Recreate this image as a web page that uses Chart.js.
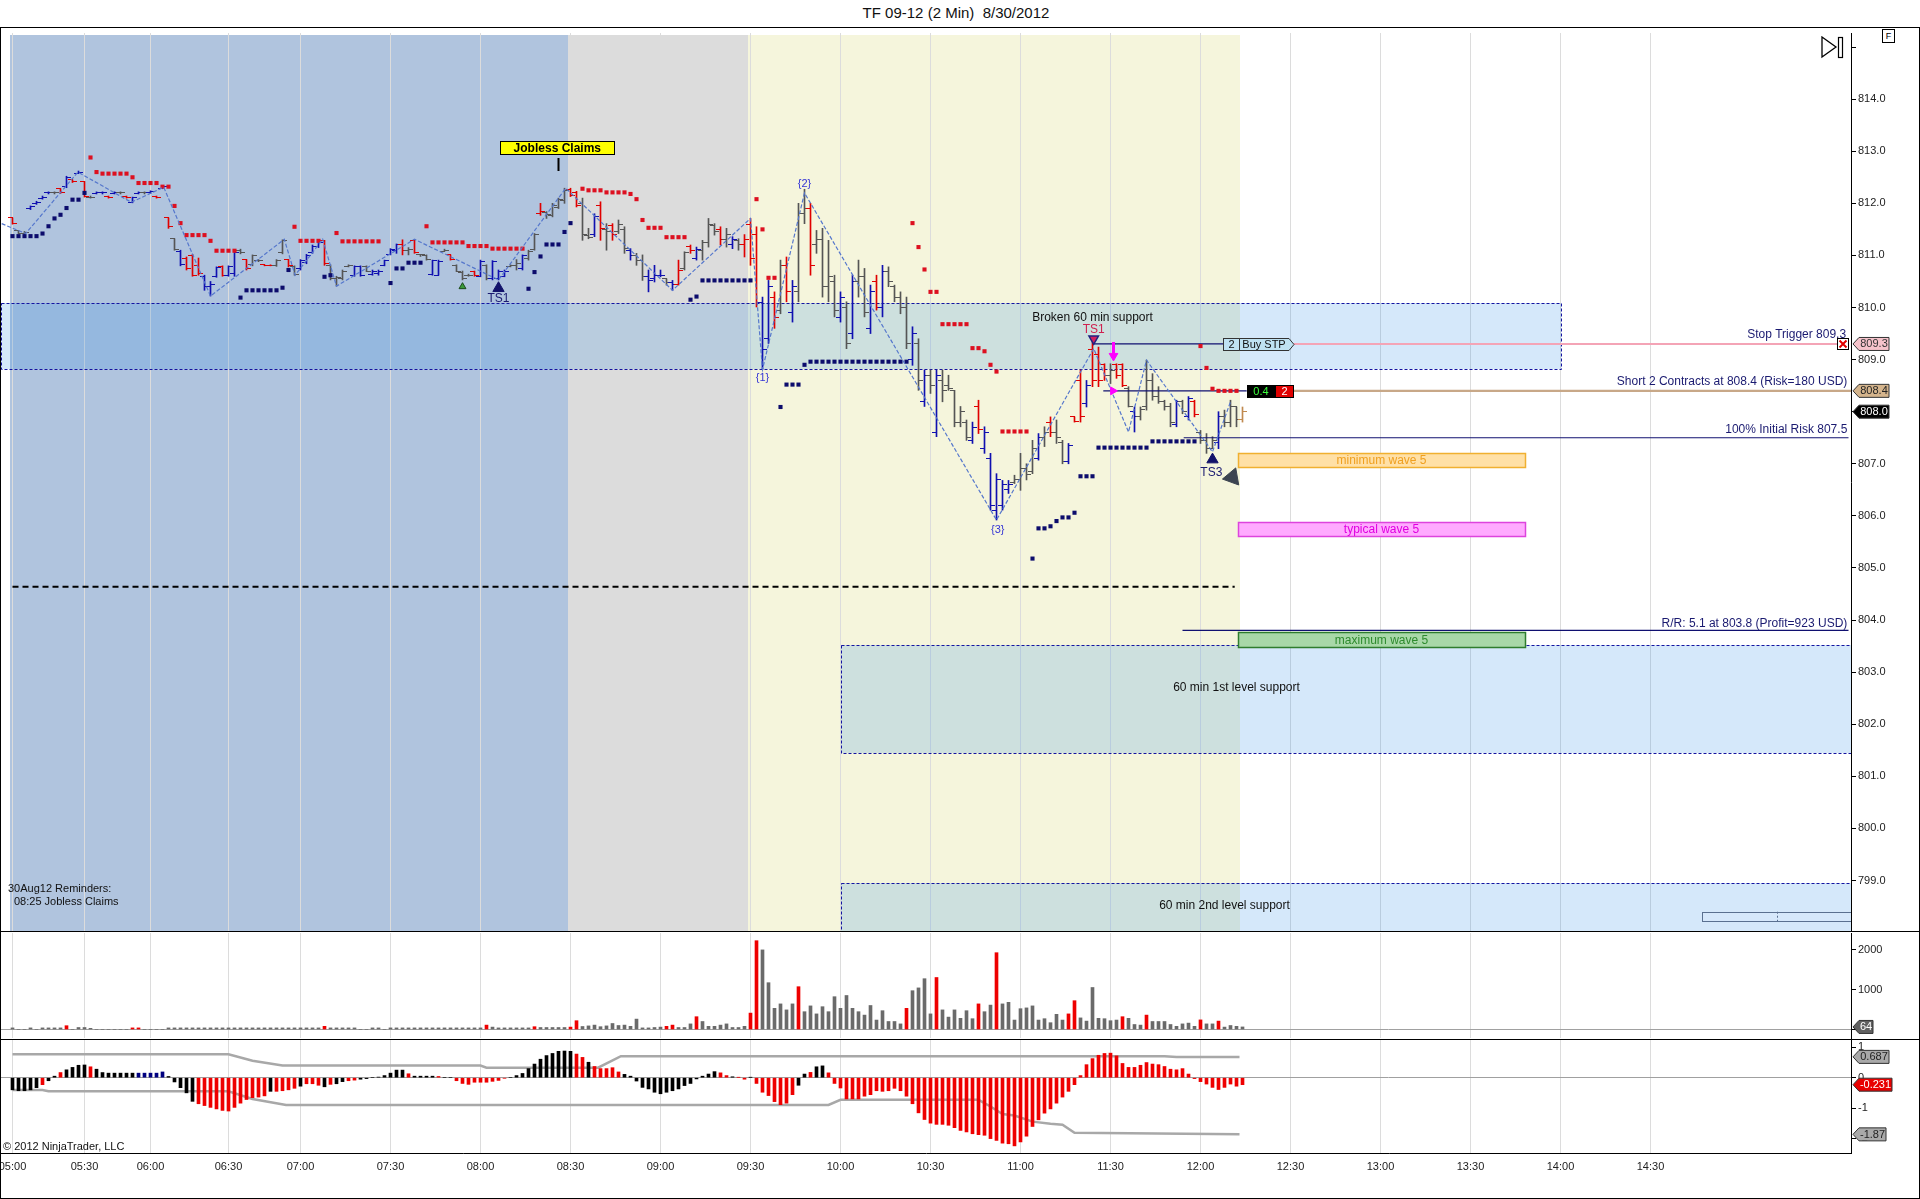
<!DOCTYPE html>
<html>
<head>
<meta charset="utf-8">
<title>TF 09-12 (2 Min) 8/30/2012</title>
<script src="https://cdn.jsdelivr.net/npm/chart.js@4.4.1/dist/chart.umd.min.js"></script>
<style>
html,body{margin:0;padding:0;background:#fff;}
body{width:1920px;height:1199px;position:relative;overflow:hidden;font-family:"Liberation Sans",Arial,Helvetica,sans-serif;}
#title{position:absolute;left:0;top:4px;width:1912px;text-align:center;font-size:15px;line-height:18px;color:#111;}
canvas{position:absolute;left:0;}
#cPrice{top:28px;} #cVol{top:932px;} #cOsc{top:1040px;}
.hl{position:absolute;left:0;height:1px;background:#000;z-index:5;}
#frame{position:absolute;left:0;top:27px;width:1920px;height:1172px;border:1px solid #000;box-sizing:border-box;z-index:5;pointer-events:none;}
#fbox{position:absolute;left:1882px;top:29px;width:13px;height:14px;border:1px solid #000;box-sizing:border-box;font-size:9px;line-height:12px;text-align:center;z-index:6;background:#fff;color:#000;}
#icon{position:absolute;left:1820px;top:36px;z-index:6;}
</style>
</head>
<body>
<div id="title">TF 09-12 (2 Min)&nbsp;&nbsp;8/30/2012</div>
<canvas id="cPrice" width="1920" height="904"></canvas>
<canvas id="cVol" width="1920" height="107"></canvas>
<canvas id="cOsc" width="1920" height="159"></canvas>
<div id="frame"></div>
<div class="hl" style="top:931px;width:1920px"></div>
<div class="hl" style="top:1039px;width:1920px"></div>
<div id="fbox">F</div>
<svg id="icon" width="26" height="24"><polygon points="2,1 16,11 2,21" fill="none" stroke="#000" stroke-width="1.3"/><rect x="18.5" y="1.5" width="4" height="20" fill="none" stroke="#000" stroke-width="1.2"/></svg>
<script>
// ================= DATA =================
const tickIdx = [0,12,23,36,48,63,78,93,108,123,138,153,168,183,198,213,228,243,258,273];
const tickLbl = ['05:00','05:30','06:00','06:30','07:00','07:30','08:00','08:30','09:00','09:30','10:00','10:30','11:00','11:30','12:00','12:30','13:00','13:30','14:00','14:30'];
const priceTicks = [799,800,801,802,803,804,805,806,807,808,809,810,811,812,813,814,815];
const volTicks = [0,1000,2000];
const oscTicks = [1,0,-1,-2];

const barHigh = [
811.72,811.48,811.46,811.95,812.04,812.14,812.22,812.22,812.28,812.52,
812.45,812.62,812.42,812.14,812.22,812.22,812.14,812.22,812.22,812.14,
812.12,812.22,812.22,812.24,812.14,812.34,811.72,811.32,811.10,810.97,
811.02,810.95,810.62,810.50,810.78,810.80,810.80,811.10,811.12,810.92,
811.01,810.92,810.82,810.82,810.92,811.30,810.92,810.80,810.92,811.02,
811.20,811.29,811.29,810.82,810.60,810.72,810.82,810.80,810.80,810.80,
810.72,810.72,810.91,811.13,811.22,811.30,811.15,811.30,811.02,811.01,
810.91,810.91,811.12,811.01,810.82,810.70,810.64,810.70,810.91,810.82,
810.90,810.72,810.72,810.82,810.92,811.01,811.10,811.42,812.00,811.84,
812.00,812.10,812.29,812.29,812.23,812.10,811.52,811.80,812.03,811.61,
811.61,811.68,811.55,811.13,811.04,811.01,810.72,810.81,810.72,810.55,
810.52,810.91,811.07,811.20,811.16,811.29,811.71,811.61,811.55,811.52,
811.36,811.32,811.40,811.71,811.55,810.20,810.52,810.30,810.91,810.97,
810.52,812.00,812.27,812.00,811.48,811.52,811.29,810.62,810.30,810.11,
810.62,810.91,810.75,810.43,810.62,810.81,810.78,810.43,810.30,810.20,
809.63,809.40,808.80,808.80,808.80,808.80,808.70,808.41,808.10,807.84,
807.80,808.22,807.71,807.20,806.81,806.68,806.68,806.78,807.20,807.00,
807.45,807.58,807.71,807.90,807.84,807.45,807.39,807.90,808.80,808.60,
809.34,809.24,808.92,808.92,808.92,808.92,808.48,808.09,808.09,808.99,
808.73,808.48,808.22,808.16,808.22,808.22,808.29,808.22,807.64,807.58,
807.52,808.00,808.03,808.22,808.09,808.09];
const barLow = [
811.60,811.42,811.40,811.88,811.98,812.08,812.18,812.18,812.19,812.30,
812.40,812.58,812.12,812.10,812.18,812.18,812.10,812.18,812.18,812.10,
812.01,812.18,812.18,812.19,812.10,812.28,811.52,811.10,810.80,810.72,
810.60,810.62,810.33,810.22,810.58,810.60,810.60,810.60,811.03,810.72,
810.80,810.88,810.80,810.80,810.79,811.03,810.78,810.62,810.72,810.84,
811.04,811.15,810.81,810.53,810.41,810.53,810.78,810.60,810.60,810.69,
810.62,810.62,810.80,811.01,811.04,811.01,811.01,811.04,810.98,810.91,
810.62,810.62,811.08,810.91,810.69,810.53,810.60,810.60,810.59,810.53,
810.53,810.53,810.59,810.78,810.72,810.72,810.91,811.10,811.77,811.71,
811.74,811.90,812.00,812.13,811.93,811.29,811.32,811.36,811.29,811.10,
811.29,811.42,811.04,810.91,810.81,810.52,810.30,810.49,810.59,810.43,
810.33,810.43,810.72,811.04,810.91,810.91,811.16,811.39,811.20,811.16,
811.13,811.10,810.97,810.81,810.01,808.81,809.31,809.60,809.88,810.11,
809.72,810.11,811.61,810.62,811.04,810.20,810.11,809.82,809.72,809.21,
809.40,810.20,809.82,809.50,809.95,809.82,810.40,810.11,809.88,809.21,
808.89,808.41,808.10,808.35,807.52,808.19,808.41,807.71,807.71,807.45,
807.39,807.58,807.20,806.11,805.92,806.11,806.43,806.62,806.49,806.69,
806.81,807.07,807.33,807.52,807.39,807.00,807.00,807.80,807.80,808.09,
808.48,808.48,808.60,808.54,808.64,808.48,808.09,807.61,807.84,808.03,
808.22,808.16,808.03,807.71,807.71,807.96,807.84,807.90,807.39,807.20,
807.29,807.29,807.71,807.71,807.71,807.80];
const barOpen = [
811.72,811.48,811.42,811.90,812.00,812.10,812.20,812.21,812.28,812.32,
812.45,812.58,812.42,812.12,812.18,812.20,812.14,812.19,812.21,812.14,
812.02,812.19,812.21,812.20,812.14,812.29,811.72,811.32,811.08,810.95,
811.00,810.80,810.60,810.40,810.60,810.78,810.62,810.65,811.10,810.92,
810.82,810.90,810.82,810.81,810.80,811.05,810.92,810.79,810.74,810.86,
811.05,811.18,811.28,810.80,810.55,810.55,810.79,810.62,810.78,810.78,
810.64,810.66,810.80,811.02,811.10,811.20,811.10,811.28,811.02,811.00,
810.64,810.62,811.08,811.01,810.81,810.68,810.62,810.70,810.60,810.80,
810.55,810.55,810.60,810.78,810.80,810.74,810.95,811.12,811.80,811.82,
811.76,811.92,812.05,812.26,812.20,812.00,811.38,811.40,811.95,811.50,
811.58,811.45,811.50,811.10,811.00,810.90,810.60,810.55,810.62,810.55,
810.48,810.45,810.75,811.18,810.95,811.10,811.25,811.58,811.50,811.30,
811.20,811.28,811.20,811.60,811.40,810.10,809.40,810.20,809.95,810.80,
809.90,810.30,811.80,811.90,811.20,811.30,810.40,810.50,809.80,810.00,
809.50,810.50,810.60,809.60,810.50,810.00,810.70,810.40,810.20,810.00,
809.00,809.30,808.20,808.70,807.60,808.60,808.50,808.40,807.80,807.80,
807.45,808.10,807.30,807.10,806.10,806.20,806.50,806.65,806.70,806.90,
806.85,807.10,807.50,807.80,807.60,807.40,807.05,807.90,808.60,808.15,
809.20,809.10,808.90,808.70,808.90,808.90,808.45,808.00,807.90,808.10,
808.60,808.30,808.20,808.10,807.75,808.20,807.90,808.20,807.60,807.45,
807.30,807.40,807.90,807.80,808.10,807.85];
const barClose = [
811.62,811.42,811.44,811.93,812.02,812.12,812.21,812.20,812.20,812.50,
812.42,812.60,812.13,812.12,812.21,812.21,812.11,812.21,812.20,812.11,
812.12,812.21,812.21,812.22,812.11,812.32,811.55,811.12,810.82,810.74,
810.62,810.65,810.40,810.45,810.76,810.62,810.78,811.05,811.05,810.75,
811.00,810.90,810.81,810.80,810.91,811.28,810.80,810.64,810.90,811.00,
811.18,811.25,810.84,810.56,810.58,810.70,810.80,810.78,810.62,810.70,
810.70,810.70,810.90,811.12,811.20,811.10,811.12,811.06,811.01,810.92,
810.90,810.88,811.10,810.92,810.70,810.55,810.62,810.62,810.88,810.56,
810.88,810.70,810.70,810.81,810.85,811.00,811.08,811.40,811.85,811.78,
811.95,812.08,812.25,812.15,811.95,811.40,811.35,811.75,811.52,811.45,
811.40,811.60,811.13,811.00,810.90,810.60,810.52,810.62,810.62,810.48,
810.45,810.72,811.05,811.10,811.12,811.25,811.60,811.45,811.30,811.40,
811.30,811.20,811.30,810.95,810.10,809.20,810.40,809.80,810.80,810.30,
810.40,811.80,811.90,810.80,811.30,810.40,810.60,809.95,810.20,809.30,
810.50,810.60,809.90,810.30,810.00,810.70,810.50,810.20,810.00,809.30,
809.50,808.60,808.70,808.50,808.70,808.40,808.45,807.80,808.00,807.50,
807.70,807.65,807.60,806.20,806.70,806.60,806.60,806.70,806.90,806.80,
807.30,807.50,807.60,807.60,807.50,807.05,807.35,807.82,807.90,808.50,
808.60,808.60,808.70,808.80,808.70,808.50,808.10,807.90,808.05,808.60,
808.30,808.20,808.10,807.80,808.20,808.00,808.25,807.95,807.45,807.30,
807.45,807.90,807.80,808.10,807.85,808.00];
// bar colour codes: r = red, g = gray, b = blue, t = tan (last bar)
const barCol = ('rggbbbbgrb'+'rbrgbbrbgr'+'bbgbrbrgbr'+'rrbbbrbbgr'+'ggrrggrgbb'+'bbrggggbbg'+'bbbbbrgrgg'+'bbgrgggrbg'+
  'bbbggbggrg'+'gggrrggbrg'+'rggbggbbbg'+'brgrbgggrg'+'bgrrrbbrgr'+'bggrggggbg'+'bggbrbgggg'+'bgbgbggggg'+
  'brbbbbbggg'+'gbgrggbrrb'+'rrrgrrgbgg'+'ggggbgbrgg'+'gbgggt').split('');

const redDots = [[13,812.88],[14,812.60],[15,812.57],[16,812.57],[17,812.57],[18,812.57],[19,812.57],[20,812.50],
 [21,812.39],[22,812.39],[23,812.39],[24,812.39],[25,812.32],[26,812.32],[27,811.95],[28,811.62],
 [29,811.39],[30,811.39],[31,811.39],[32,811.39],[33,811.28],[34,811.09],[35,811.09],[36,811.09],[37,811.09],
 [47,811.55],[48,811.28],[49,811.28],[50,811.28],[51,811.28],
 [54,811.43],[55,811.27],[56,811.27],[57,811.27],[58,811.27],[59,811.27],[60,811.27],[61,811.27],
 [69,811.56],[70,811.25],[71,811.25],[72,811.25],[73,811.25],[74,811.25],[75,811.25],
 [76,811.18],[77,811.18],[78,811.18],[79,811.18],[80,811.13],[81,811.13],[82,811.13],[83,811.13],[84,811.13],[85,811.13],
 [95,812.28],[96,812.25],[97,812.25],[98,812.25],[99,812.21],[100,812.21],[101,812.21],[102,812.21],[103,812.18],
 [104,812.08],[105,811.68],[106,811.53],[107,811.53],[108,811.53],[109,811.35],[110,811.35],[111,811.35],[112,811.35],
 [124,812.08],[125,811.50],[126,810.57],[127,810.57],
 [150,811.62],[151,811.16],[152,810.73],[153,810.30],[154,810.30],[155,809.68],[156,809.68],[157,809.68],[158,809.68],[159,809.68],
 [160,809.22],[161,809.22],[162,809.16],[163,808.90],[164,808.77],[165,807.62],[166,807.62],[167,807.62],[168,807.62],[169,807.62],
 [198,809.26],[199,808.84],[200,808.44],[201,808.40],[202,808.40],[203,808.40],[204,808.40]];
const navyDots = [[0,811.37],[1,811.37],[2,811.37],[3,811.37],[4,811.37],[5,811.42],[6,811.56],[7,811.71],[8,811.78],[9,811.91],
 [10,812.07],[11,812.07],[12,812.20],
 [38,810.19],[39,810.33],[40,810.33],[41,810.33],[42,810.33],[43,810.33],[44,810.33],[45,810.38],[46,810.72],
 [52,810.59],[53,810.62],[63,810.47],[64,810.75],[65,810.75],[66,810.86],[67,810.86],[68,810.86],
 [86,810.36],[87,810.68],[88,810.98],[89,811.21],[90,811.21],[91,811.21],[92,811.45],[93,811.62],
 [113,810.15],[114,810.21],[115,810.52],[116,810.52],[117,810.52],[118,810.52],[119,810.52],[120,810.52],[121,810.52],[122,810.52],[123,810.52],
 [128,808.09],[129,808.52],[130,808.52],[131,808.52],[132,808.90],
 [133,808.96],[134,808.96],[135,808.96],[136,808.96],[137,808.96],[138,808.96],[139,808.96],[140,808.96],[141,808.96],
 [142,808.96],[143,808.96],[144,808.96],[145,808.96],[146,808.96],[147,808.96],[148,808.96],[149,808.96],
 [170,805.18],[171,805.76],[172,805.76],[173,805.80],[174,805.90],[175,805.97],[176,805.97],[177,806.06],
 [178,806.76],[179,806.76],[180,806.76],
 [181,807.31],[182,807.31],[183,807.31],[184,807.31],[185,807.31],[186,807.31],[187,807.31],[188,807.31],[189,807.31],
 [190,807.43],[191,807.43],[192,807.43],[193,807.43],[194,807.43],[195,807.43],[196,807.43],[197,807.43]];
const zigzag = [[-1.8,811.61],[2.2,811.42],[10.9,812.60],[19.8,812.02],[25.2,812.31],[33,810.22],[45.3,811.31],[47.1,810.62],
 [51.7,811.31],[54,810.41],[67,811.31],[81,810.53],[92.2,812.29],[110,810.33],[123,811.71],[125,808.81],[132,812.20],
 [164,805.92],[180.2,809.21],[186,807.61],[189,808.99],[200,807.23],[203,808.19]];

const volume = [
40,0,0,40,0,40,40,40,40,95, 0,50,50,30,0,0,0,0,0,0, 40,40,0,0,0,0,40,40,40,40,
40,40,40,40,40,40,40,40,40,40, 40,40,40,40,40,40,40,40,40,40, 40,40,80,40,40,40,40,40,0,0,
40,40,0,40,40,40,40,40,40,40, 40,40,40,40,40,40,40,40,40,110, 60,40,40,40,40,40,40,70,50,50,
50,50,50,60,220,75,90,110,70,90, 150,100,110,80,260,40,40,50,60,80, 110,50,50,140,320,200,80,80,110,140,
50,50,80,410,2220,1990,1170,530,640,490, 640,1070,445,590,390,570,445,820,530,850,
530,445,360,600,236,470,200,200,140,530, 970,1040,1270,390,1300,490,310,490,280,470,
270,640,445,610,1920,640,680,236,520,540, 590,236,270,170,380,236,390,720,290,210,
1050,280,270,220,236,320,280,125,110,360, 200,200,200,125,80,140,160,80,240,140, 140,210,60,100,80,64];
const volRedIdx = [9,20,21,52,79,87,93,94,109,110,114,123,124,131,149,154,161,164,176,177,185,189,198,201];

const osc = [
-0.40,-0.43,-0.43,-0.40,-0.33,-0.23,-0.10,0.05,0.17,0.26, 0.34,0.41,0.42,0.36,0.28,0.17,0.15,0.15,0.15,0.15,
0.15,0.15,0.15,0.15,0.15,0.19,0.04,-0.14,-0.33,-0.50, -0.78,-0.86,-0.92,-0.98,-1.03,-1.08,-1.10,-0.98,-0.84,-0.72,
-0.66,-0.64,-0.60,-0.45,-0.45,-0.43,-0.40,-0.35,-0.28,-0.20, -0.20,-0.25,-0.30,-0.22,-0.20,-0.13,-0.10,-0.08,-0.05,-0.03,
0.00,0.02,0.07,0.15,0.25,0.25,0.13,0.05,0.05,0.05, 0.05,0.04,0.00,0.00,-0.10,-0.19,-0.22,-0.15,-0.15,-0.15,
-0.12,-0.09,-0.02,0.00,0.07,0.14,0.30,0.45,0.61,0.73, 0.80,0.87,0.88,0.87,0.78,0.67,0.51,0.37,0.30,0.30,
0.33,0.19,0.11,0.05,-0.11,-0.32,-0.37,-0.48,-0.53,-0.48, -0.43,-0.37,-0.26,-0.19,-0.04,0.05,0.12,0.20,0.16,0.07,
0.03,0.01,-0.05,0.01,-0.19,-0.48,-0.59,-0.79,-0.89,-0.84, -0.56,-0.25,0.12,0.175,0.36,0.39,0.16,-0.19,-0.34,-0.70,
-0.70,-0.70,-0.61,-0.56,-0.43,-0.45,-0.43,-0.35,-0.43,-0.61, -0.86,-1.16,-1.38,-1.50,-1.54,-1.54,-1.57,-1.65,-1.74,-1.79,
-1.85,-1.88,-1.90,-2.01,-2.07,-2.16,-2.18,-2.25,-2.12,-1.93, -1.61,-1.39,-1.17,-1.03,-0.84,-0.64,-0.45,-0.23,0.07,0.43,
0.63,0.74,0.80,0.81,0.72,0.47,0.34,0.34,0.41,0.50, 0.45,0.43,0.37,0.28,0.26,0.30,0.12,-0.03,-0.13,-0.21,
-0.32,-0.39,-0.32,-0.21,-0.28,-0.231];
// k = black, r = red, n = navy
const oscCol = ('kkkkkrkkrk'+'kkkrkkkkkk'+'knnnnnkkkk'+'krrrrrrrrr'+'rrrkrrrrkr'+'rrkrkkrrkk'+'kkkkkkrkkk'+'krkkrrrrrr'+
  'rrrkkkkkkk'+'kkkkrrkrrr'+'rrkkkkkkkk'+'kkkkkkkkrr'+'krrkrrrrrr'+'rkkrkkrrrr'+'rrrrrrrrrr'+'rrrrrrrrrr'+
  'rrrrrrrrrr'+'rrrrrrrrrr'+'rrrrrrrrrr'+'rrrrrrrrrr'+'rrrrrr').split('');
const bandUpper = [[0,0.776],[36,0.776],[40,0.56],[45,0.40],[78,0.40],[79,0.33],[97.6,0.33],[101.4,0.71],[192,0.71],[194,0.687],[204.5,0.687]];
const bandLower = [[0,-0.405],[5,-0.405],[6,-0.45],[36,-0.45],[40,-0.70],[45.6,-0.90],[136,-0.90],[138,-0.73],[161,-0.73],
 [163,-0.95],[165,-1.20],[167,-1.25],[170,-1.45],[173,-1.52],[175,-1.55],[177,-1.82],[204.5,-1.87]];

// sessions (bar index ranges)
const sessionStart = [-0.5, 92.5, 122.5];
const sessionEnd = [92.5, 122.5, 204.5];
const sessionColor = ['#b0c4de', '#dcdcdc', '#f5f5dc'];

// ================= STYLE / HELPERS =================
const FONT = '"Liberation Sans", Arial, Helvetica, sans-serif';
const X_MIN = -11/6 - 1/12;
const X_MAX = X_MIN + 1850/6;
const BAR_COLORS = {r:'#e00000', g:'#555555', b:'#1010b0', t:'#c08a50'};
const OSC_COLORS = {k:'#000000', r:'#ee0000', n:'#000080'};
const NAVY = '#1a1a70';

const levelBoxes = [
 {from:X_MIN, to:258, lo:808.81, hi:810.08},
 {from:138, to:X_MAX+1, lo:801.45, hi:803.52},
 {from:138, to:X_MAX+1, lo:797.0, hi:798.95}
];
const waveBoxes = [
 {from:204.2, to:252, lo:806.93, hi:807.20, text:'minimum wave 5', fill:'#ffe0a6', stroke:'#f0b030', color:'#f0a020'},
 {from:204.2, to:252, lo:805.61, hi:805.88, text:'typical wave 5', fill:'#ffaaff', stroke:'#dd44dd', color:'#e000e0'},
 {from:204.2, to:252, lo:803.48, hi:803.77, text:'maximum wave 5', fill:'#a8d8a8', stroke:'#2e7d2e', color:'#2e8b2e'}
];
const notes = [
 {x:180, y:809.80, t:'Broken 60 min support', c:'#111', s:12},
 {x:81, y:810.17, t:'TS1', c:NAVY, s:12},
 {x:180.2, y:809.58, t:'TS1', c:'#d02050', s:12},
 {x:199.8, y:806.83, t:'TS3', c:NAVY, s:12},
 {x:125, y:808.64, t:'{1}', c:'#3535d5', s:11},
 {x:132, y:812.37, t:'{2}', c:'#3535d5', s:11},
 {x:164.2, y:805.72, t:'{3}', c:'#3535d5', s:11},
 {x:204, y:802.71, t:'60 min 1st level support', c:'#111', s:12},
 {x:202, y:798.51, t:'60 min 2nd level support', c:'#111', s:12},
 {x:305.6, y:809.47, t:'Stop Trigger 809.3', c:NAVY, s:12, a:'right'},
 {x:305.8, y:808.57, t:'Short 2 Contracts at 808.4 (Risk=180 USD)', c:NAVY, s:12, a:'right'},
 {x:305.8, y:807.66, t:'100% Initial Risk 807.5', c:NAVY, s:12, a:'right'},
 {x:305.8, y:803.93, t:'R/R: 5.1 at 803.8 (Profit=923 USD)', c:NAVY, s:12, a:'right'}
];

function tickImg(color, side){
  const c = document.createElement('canvas'); c.width = 11; c.height = 1;
  const g = c.getContext('2d'); g.fillStyle = color;
  if (side === 'o') g.fillRect(1,0,5,1); else g.fillRect(5,0,5,1);
  return c;
}
const openImgs = {}, closeImgs = {};
for (const k in BAR_COLORS){ openImgs[k] = tickImg(BAR_COLORS[k],'o'); closeImgs[k] = tickImg(BAR_COLORS[k],'c'); }

function xScale(show){
  return {
    type:'linear', min:X_MIN, max:X_MAX, offset:false,
    afterBuildTicks: s => { s.ticks = tickIdx.map(v => ({value:v})); },
    afterFit: s => { s.height = show ? 46 : 0; s.paddingLeft = 0; s.paddingRight = 0; },
    grid:{color:'#dcdcdc', lineWidth:1, drawTicks:false, offset:false},
    border:{display:show, color:'#000', width:1},
    ticks:{display:show, autoSkip:false, maxRotation:0, minRotation:0, padding:7, color:'#222',
      font:{family:FONT, size:11}, callback:(v,i) => tickLbl[i]}
  };
}
function yScale(min, max, ticks, fmt, zeroLine){
  return {
    type:'linear', position:'right', min:min, max:max,
    afterBuildTicks: s => { s.ticks = ticks.map(v => ({value:v})); },
    afterFit: s => { s.width = 69; s.paddingTop = 0; s.paddingBottom = 0; },
    grid:{drawOnChartArea: !!zeroLine, drawTicks:true, tickLength:5, tickColor:'#000',
      color: c => (zeroLine && c.tick && c.tick.value === 0) ? '#a0a0a0' : 'rgba(0,0,0,0)'},
    border:{display:true, color:'#000', width:1},
    ticks:{padding:2, color:'#222', font:{family:FONT, size:11}, callback: fmt}
  };
}
function drawTag(ctx, a, yPix, text, bg, fg, w){
  const x0 = a.right + 2, h = 6.5;
  ctx.beginPath();
  ctx.moveTo(x0, yPix); ctx.lineTo(x0+6, yPix-h); ctx.lineTo(x0+w, yPix-h); ctx.lineTo(x0+w, yPix+h); ctx.lineTo(x0+6, yPix+h); ctx.closePath();
  ctx.fillStyle = bg; ctx.fill(); ctx.strokeStyle = '#333'; ctx.lineWidth = 1; ctx.stroke();
  ctx.fillStyle = fg; ctx.font = '11px '+FONT; ctx.textAlign = 'center'; ctx.textBaseline = 'middle';
  ctx.fillText(text, x0 + 3 + w/2, yPix + 0.5);
}
const baseOpts = {responsive:false, animation:false, events:[], plugins:{legend:{display:false}, tooltip:{enabled:false}}};

// ================= PRICE CHART =================
const pricePlugin = {
  id:'pricePlugin',
  beforeDraw(chart){
    const {ctx, chartArea:a, scales:{x}} = chart;
    ctx.save();
    for (let k = 0; k < sessionStart.length; k++){
      const x0 = Math.round(x.getPixelForValue(sessionStart[k])), x1 = Math.round(x.getPixelForValue(sessionEnd[k]));
      ctx.fillStyle = sessionColor[k]; ctx.fillRect(x0, a.top + 2, x1-x0, a.bottom-a.top-2);
    }
    ctx.restore();
  },
  beforeDatasetsDraw(chart){
    const {ctx, chartArea:a, scales:{x,y}} = chart;
    ctx.save(); ctx.beginPath(); ctx.rect(a.left, a.top, a.right-a.left, a.bottom-a.top); ctx.clip();
    levelBoxes.forEach(b => {
      const x0 = Math.round(x.getPixelForValue(b.from)), x1 = Math.round(x.getPixelForValue(b.to));
      const y0 = Math.round(y.getPixelForValue(b.hi)), y1 = Math.round(y.getPixelForValue(b.lo));
      ctx.fillStyle = 'rgba(45,140,230,0.2)'; ctx.fillRect(x0, y0, x1-x0, y1-y0);
      ctx.setLineDash([3,2]); ctx.strokeStyle = '#1414a0'; ctx.lineWidth = 1;
      ctx.strokeRect(x0+0.5, y0+0.5, x1-x0, y1-y0);
    });
    ctx.setLineDash([]);
    const sx0 = x.getPixelForValue(281.5), sx1 = x.getPixelForValue(X_MAX), sy0 = y.getPixelForValue(798.40), sy1 = y.getPixelForValue(798.22);
    ctx.fillStyle = '#d6e8fb'; ctx.fillRect(sx0, sy0, sx1-sx0, sy1-sy0);
    ctx.strokeStyle = '#5a7090'; ctx.strokeRect(Math.round(sx0)+0.5, Math.round(sy0)+0.5, Math.round(sx1-sx0), Math.round(sy1-sy0));
    const dx = Math.round(x.getPixelForValue(294))+0.5;
    ctx.setLineDash([2,2]); ctx.beginPath(); ctx.moveTo(dx, sy0); ctx.lineTo(dx, sy1); ctx.stroke(); ctx.setLineDash([]);
    ctx.restore();
  },
  afterDatasetsDraw(chart){
    const {ctx, chartArea:a, scales:{x,y}} = chart;
    ctx.save();
    waveBoxes.forEach(b => {
      const x0 = Math.round(x.getPixelForValue(b.from)), x1 = Math.round(x.getPixelForValue(b.to));
      const y0 = Math.round(y.getPixelForValue(b.hi)), y1 = Math.round(y.getPixelForValue(b.lo));
      ctx.fillStyle = b.fill; ctx.fillRect(x0, y0, x1-x0, y1-y0);
      ctx.strokeStyle = b.stroke; ctx.lineWidth = 1.5; ctx.strokeRect(x0+0.5, y0+0.5, x1-x0, y1-y0);
      ctx.fillStyle = b.color; ctx.font = '12px '+FONT; ctx.textAlign = 'center'; ctx.textBaseline = 'middle';
      ctx.fillText(b.text, (x0+x1)/2, (y0+y1)/2 + 1);
    });
    const jx = x.getPixelForValue(90.8), jy = y.getPixelForValue(813.07);
    ctx.fillStyle = '#ffff00'; ctx.fillRect(jx-57, jy-6.5, 114, 13);
    ctx.strokeStyle = '#000'; ctx.lineWidth = 1; ctx.strokeRect(Math.round(jx-57)+0.5, Math.round(jy-6.5)+0.5, 114, 13);
    ctx.fillStyle = '#000'; ctx.font = 'bold 12px '+FONT; ctx.textAlign = 'center'; ctx.textBaseline = 'middle';
    ctx.fillText('Jobless Claims', jx, jy + 1);
    notes.forEach(n => {
      ctx.fillStyle = n.c; ctx.font = n.s + 'px ' + FONT; ctx.textAlign = n.a || 'center'; ctx.textBaseline = 'middle';
      ctx.fillText(n.t, x.getPixelForValue(n.x), y.getPixelForValue(n.y));
    });
    let bx = Math.round(x.getPixelForValue(201.8)), by = Math.round(y.getPixelForValue(809.3));
    ctx.lineWidth = 1; ctx.strokeStyle = '#333';
    ctx.fillStyle = '#bfe2f2'; ctx.fillRect(bx, by-6, 16, 12); ctx.strokeRect(bx+0.5, by-5.5, 16, 12);
    ctx.beginPath(); ctx.moveTo(bx+16.5, by-5.5); ctx.lineTo(bx+66, by-5.5); ctx.lineTo(bx+71, by+0.5); ctx.lineTo(bx+66, by+6.5); ctx.lineTo(bx+16.5, by+6.5); ctx.closePath();
    ctx.fill(); ctx.stroke();
    ctx.fillStyle = '#111'; ctx.font = '11px '+FONT; ctx.textAlign = 'center'; ctx.textBaseline = 'middle';
    ctx.fillText('2', bx+8.5, by+1); ctx.fillText('Buy STP', bx+41, by+1);
    bx = Math.round(x.getPixelForValue(205.7)); by = Math.round(y.getPixelForValue(808.4));
    ctx.fillStyle = '#000'; ctx.fillRect(bx, by-6, 28, 13);
    ctx.fillStyle = '#e00000'; ctx.fillRect(bx+28, by-6, 19, 13);
    ctx.strokeStyle = '#000'; ctx.strokeRect(bx+28.5, by-5.5, 18, 12);
    ctx.fillStyle = '#3cff3c'; ctx.fillText('0.4', bx+14, by+1);
    ctx.fillStyle = '#fff'; ctx.fillText('2', bx+37.5, by+1);
    const xx = Math.round(a.right) - 14, xy = Math.round(y.getPixelForValue(809.3));
    ctx.fillStyle = '#fff'; ctx.fillRect(xx, xy-6, 12, 12); ctx.strokeStyle = '#000'; ctx.strokeRect(xx+0.5, xy-5.5, 11, 11);
    ctx.strokeStyle = '#e00000'; ctx.lineWidth = 2; ctx.beginPath();
    ctx.moveTo(xx+2.5, xy-3.5); ctx.lineTo(xx+9.5, xy+3.5); ctx.moveTo(xx+9.5, xy-3.5); ctx.lineTo(xx+2.5, xy+3.5); ctx.stroke();
    ctx.fillStyle = '#111'; ctx.font = '11px '+FONT; ctx.textAlign = 'left'; ctx.textBaseline = 'middle';
    ctx.fillText('30Aug12 Reminders:', a.left + 7, a.bottom - 42);
    ctx.fillText('08:25 Jobless Claims', a.left + 13, a.bottom - 29);
    ctx.restore();
  },
  afterDraw(chart){
    const {ctx, chartArea:a, scales:{y}} = chart;
    ctx.save();
    drawTag(ctx, a, y.getPixelForValue(809.3), '809.3', '#f6c3cb', '#333', 36);
    drawTag(ctx, a, y.getPixelForValue(808.4), '808.4', '#d4b48c', '#222', 36);
    drawTag(ctx, a, y.getPixelForValue(808.0), '808.0', '#000', '#fff', 36);
    ctx.restore();
  }
};

const pts = arr => arr.map(p => ({x:p[0], y:p[1]}));
const seg = (x0,x1,v) => [{x:x0,y:v},{x:x1,y:v}];
const lineDs = (data, color, width, dash, order) => ({type:'line', data, borderColor:color, borderWidth:width, borderDash:dash||[], pointRadius:0, fill:false, tension:0, order:order||2});

new Chart(document.getElementById('cPrice'), {
  type:'scatter',
  data:{datasets:[
    {type:'scatter', data:[{x:81,y:810.37},{x:200,y:807.08}], pointStyle:'triangle', pointRadius:6.5, pointBackgroundColor:'#12126a', pointBorderColor:'#12126a', order:0},
    {type:'scatter', data:[{x:75,y:810.40}], pointStyle:'triangle', pointRadius:4, pointBackgroundColor:'#3a9a3a', pointBorderColor:'#1a4a1a', pointBorderWidth:1, order:0},
    {type:'scatter', data:[{x:180.2,y:809.40}], pointStyle:'triangle', rotation:180, pointRadius:5.5, pointBackgroundColor:'#d02060', pointBorderColor:'#202080', pointBorderWidth:1.5, order:0},
    {type:'scatter', data:[{x:203.3,y:806.74}], pointStyle:'triangle', rotation:140, pointRadius:10, pointBackgroundColor:'#3c4450', pointBorderColor:'#3c4450', order:0},
    {type:'scatter', data:[{x:183.5,y:809.07}], pointStyle:'triangle', rotation:180, pointRadius:5, pointBackgroundColor:'#ff00ff', pointBorderColor:'#ff00ff', order:0},
    {type:'scatter', data:[{x:183.4,y:808.40}], pointStyle:'triangle', rotation:90, pointRadius:4.5, pointBackgroundColor:'#ff00ff', pointBorderColor:'#ff00ff', order:0},
    lineDs([{x:183.5,y:809.34},{x:183.5,y:809.12}], '#ff00ff', 3, [], 0),
    lineDs([{x:91,y:812.87},{x:91,y:812.62}], '#000', 2, [], 1),
    lineDs(pts(zigzag), '#5577cc', 1.2, [4,2], 1),
    {type:'scatter', data:pts(redDots), pointStyle:'rect', pointRadius:2.9, pointBackgroundColor:'#dd1020', pointBorderWidth:0, order:2},
    {type:'scatter', data:pts(navyDots), pointStyle:'rect', pointRadius:2.9, pointBackgroundColor:'#0c0c6c', pointBorderWidth:0, order:2},
    lineDs(seg(180.2,201.8,809.3), '#101070', 1.2, [], 2),
    lineDs(seg(213.5,304.8,809.3), '#f4a4b6', 2, [], 2),
    lineDs(seg(181.8,205.7,808.4), '#101070', 1.2, [], 2),
    lineDs(seg(213.5,X_MAX,808.4), '#c8a888', 2.2, [], 2),
    lineDs(seg(195.2,306.0,807.5), '#101070', 1.2, [], 2),
    lineDs(seg(195.0,306.0,803.8), '#101070', 1.2, [], 2),
    lineDs(seg(0,203.7,804.64), '#000', 2, [6,4], 2),
    {type:'scatter', data:barOpen.map((v,i)=>({x:i,y:v})), pointStyle: c => openImgs[barCol[c.dataIndex]] || openImgs.g, pointRadius:5, order:3},
    {type:'scatter', data:barClose.map((v,i)=>({x:i,y:v})), pointStyle: c => closeImgs[barCol[c.dataIndex]] || closeImgs.g, pointRadius:5, order:3},
    {type:'bar', data:barHigh.map((h,i)=>({x:i, y:[barLow[i], h]})), backgroundColor:barCol.map(k=>BAR_COLORS[k]), borderWidth:0, barThickness:1, order:4}
  ]},
  options:Object.assign({}, baseOpts, {
    layout:{autoPadding:false, padding:{left:1, right:0, top:5, bottom:1}},
    scales:{
      x: xScale(false),
      y: yScale(798.03, 815.27, priceTicks, v => v === 815 ? '' : Number(v).toFixed(1), false)
    }
  }),
  plugins:[pricePlugin]
});

// ================= VOLUME CHART =================
const volPlugin = {
  id:'volPlugin',
  afterDraw(chart){
    const {ctx, chartArea:a, scales:{y}} = chart;
    ctx.save();
    drawTag(ctx, a, y.getPixelForValue(64), '64', '#606060', '#fff', 20);
    ctx.restore();
  }
};
new Chart(document.getElementById('cVol'), {
  type:'scatter',
  data:{datasets:[
    {type:'bar', data:volume.map((v,i)=>({x:i,y:v})), backgroundColor:volume.map((v,i)=> volRedIdx.includes(i) ? '#ee0000' : '#6a6a6a'), borderWidth:0, barThickness:3}
  ]},
  options:Object.assign({}, baseOpts, {
    layout:{autoPadding:false, padding:{left:1, right:0, top:1, bottom:1}},
    scales:{
      x: xScale(false),
      y: yScale(-212.5, 2412.5, volTicks, v => v === 0 ? '' : String(v), true)
    }
  }),
  plugins:[volPlugin]
});

// ================= OSCILLATOR CHART =================
const oscPlugin = {
  id:'oscPlugin',
  afterDraw(chart){
    const {ctx, chartArea:a, scales:{y}} = chart;
    ctx.save();
    drawTag(ctx, a, y.getPixelForValue(0.687), '0.687', '#a9a9a9', '#222', 36);
    drawTag(ctx, a, y.getPixelForValue(-0.231), '-0.231', '#e80000', '#fff', 39);
    drawTag(ctx, a, y.getPixelForValue(-1.87), '-1.87', '#a9a9a9', '#222', 33);
    ctx.fillStyle = '#111'; ctx.font = '11px '+FONT; ctx.textAlign = 'left'; ctx.textBaseline = 'middle';
    ctx.fillText('\u00A9 2012 NinjaTrader, LLC', 3, a.bottom - 6);
    ctx.restore();
  }
};
new Chart(document.getElementById('cOsc'), {
  type:'scatter',
  data:{datasets:[
    lineDs(pts(bandUpper), '#a8a8a8', 2.5, [], 0),
    lineDs(pts(bandLower), '#a8a8a8', 2.5, [], 0),
    {type:'bar', data:osc.map((v,i)=>({x:i,y:v})), backgroundColor:oscCol.map(k=>OSC_COLORS[k]), borderWidth:0, barThickness:3, order:1}
  ]},
  options:Object.assign({}, baseOpts, {
    layout:{autoPadding:false, padding:{left:1, right:0, top:0, bottom:0}},
    scales:{
      x: xScale(true),
      y: yScale(-2.485, 1.244, oscTicks, v => String(v), true)
    }
  }),
  plugins:[oscPlugin]
});
</script>
</body>
</html>
